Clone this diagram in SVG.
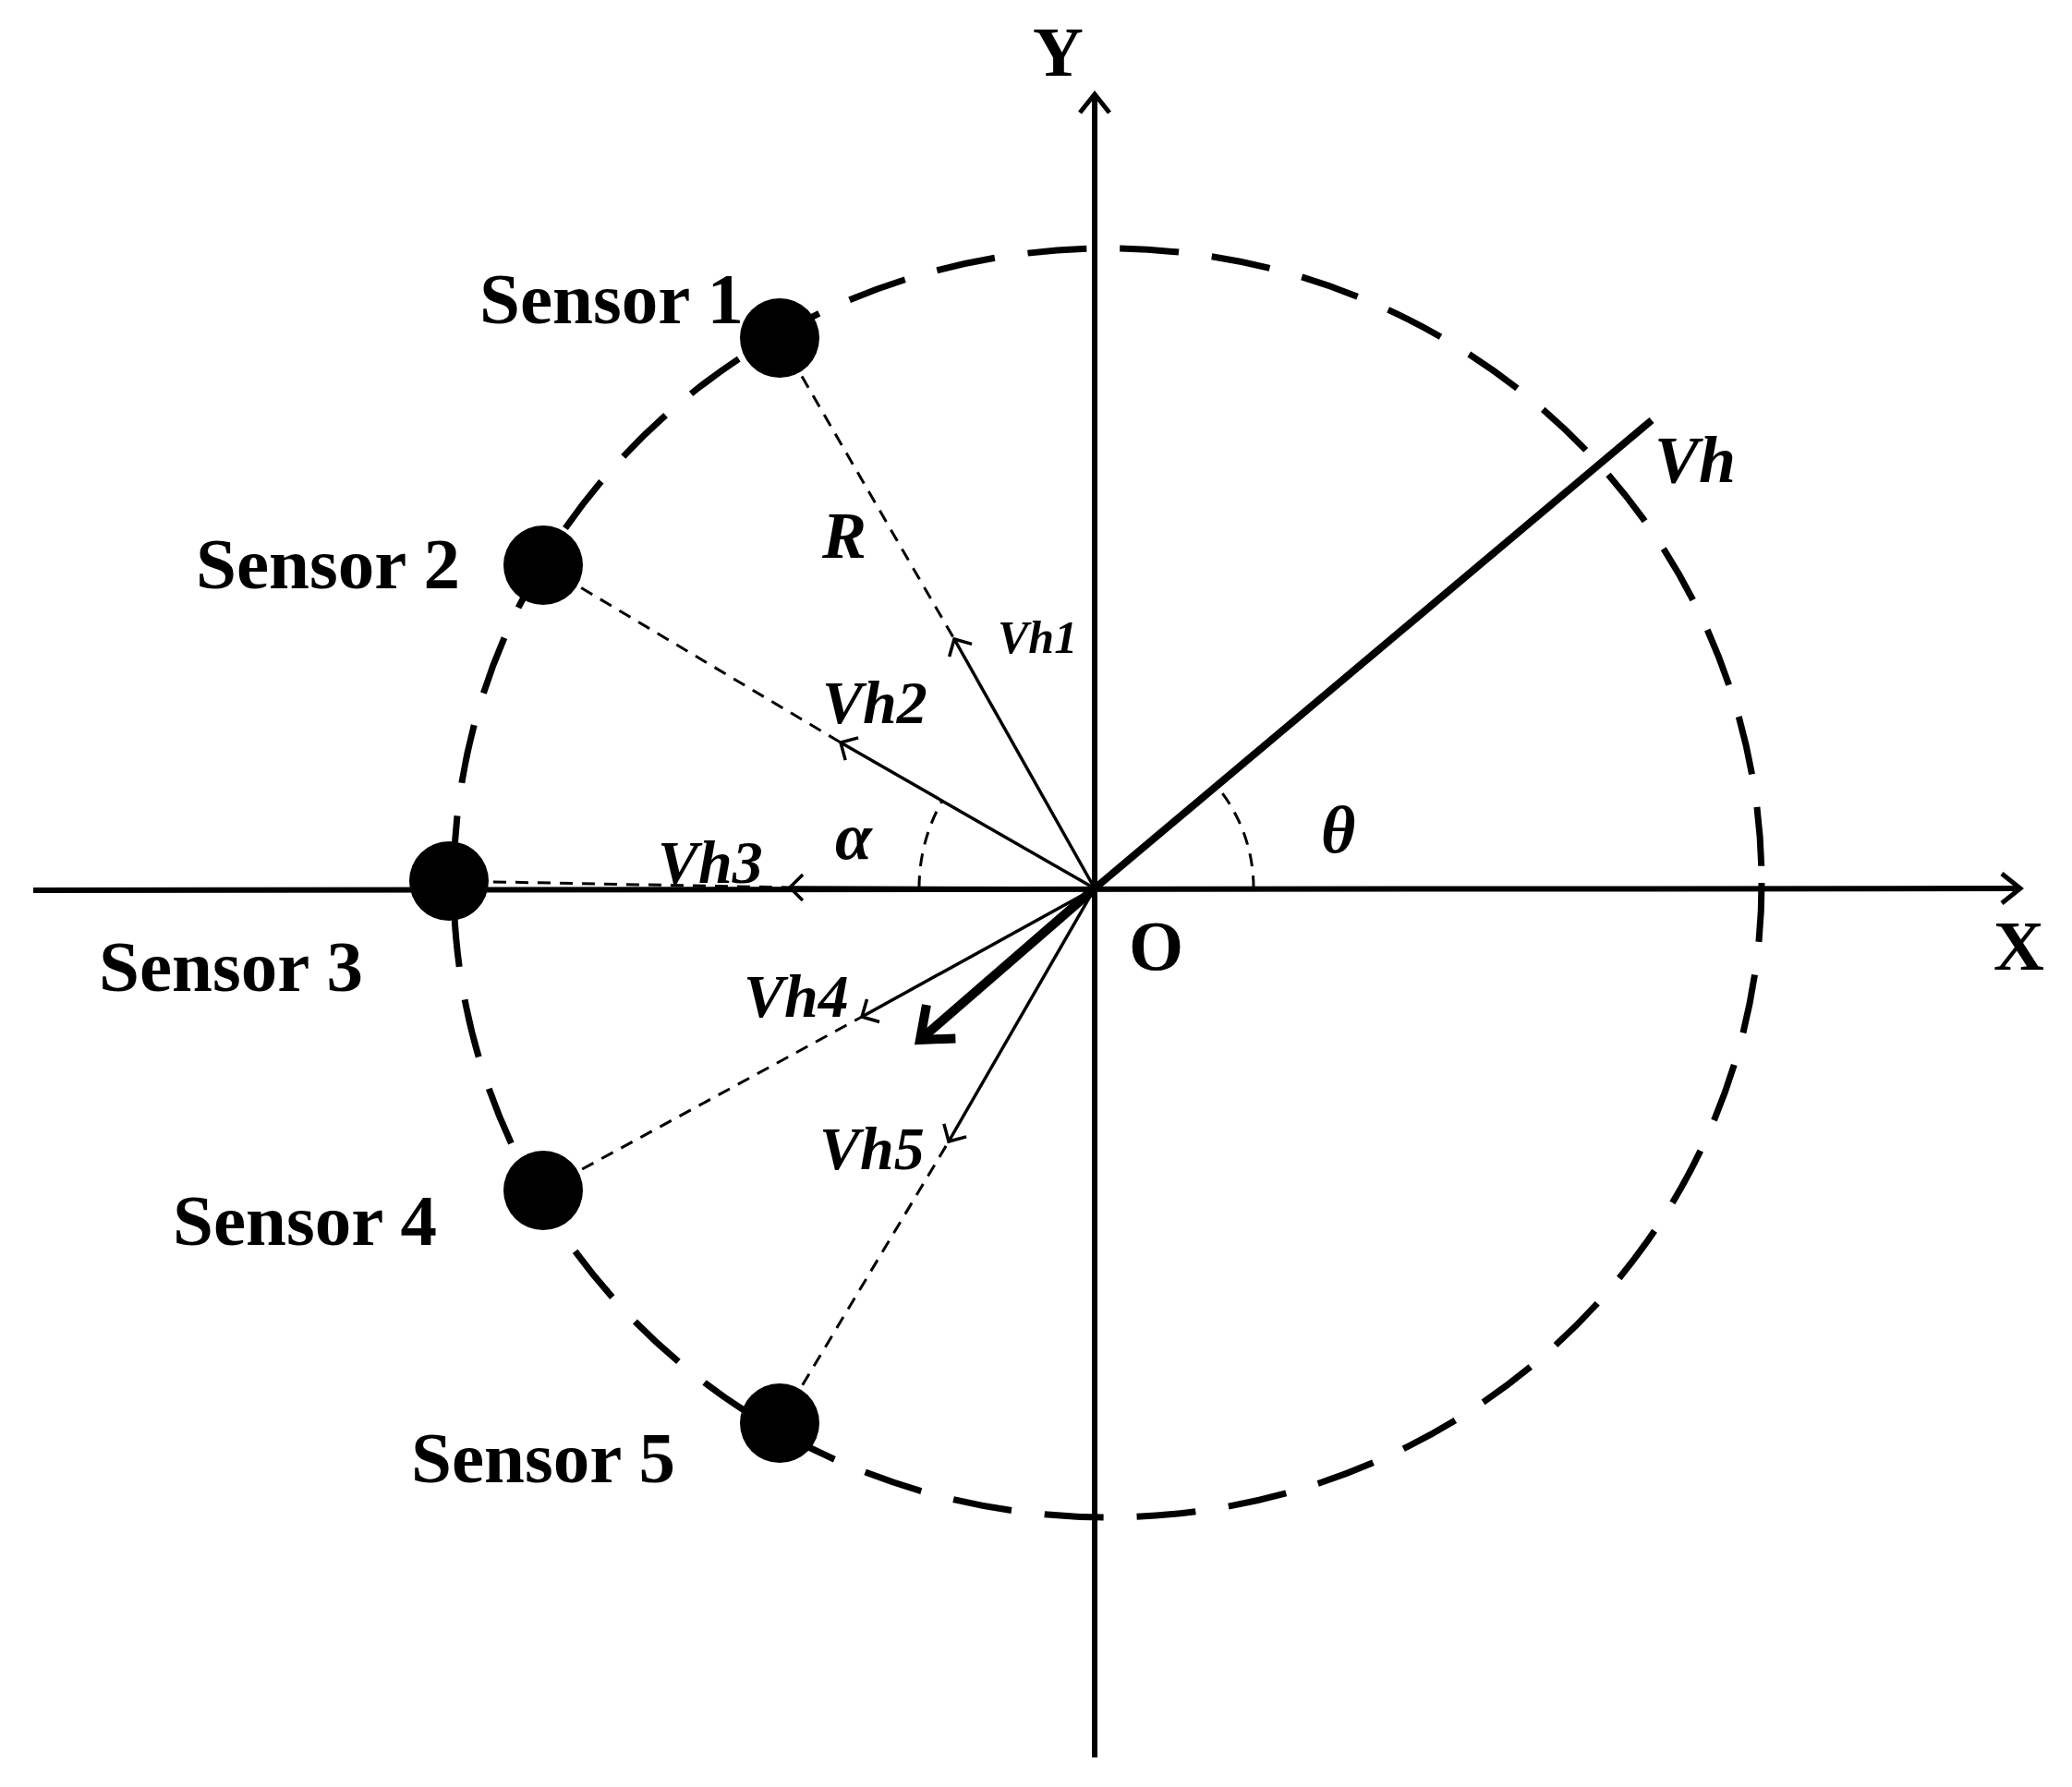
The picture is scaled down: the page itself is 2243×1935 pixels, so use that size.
<svg xmlns="http://www.w3.org/2000/svg" width="2243" height="1935" viewBox="0 0 2243 1935">
<defs>
<style>
.t{font-family:"Liberation Serif",serif;font-weight:bold;fill:#000}
.i{font-style:italic}
.ax{stroke:#000;stroke-width:6;fill:none}
.th{stroke:#000;stroke-width:3.5;fill:none}
.dl{stroke:#000;stroke-width:3;fill:none;stroke-dasharray:14 10}
</style>
<marker id="ah" markerWidth="12" markerHeight="12" refX="0" refY="0" orient="auto" markerUnits="userSpaceOnUse" overflow="visible">
<polyline points="-14,-14 0,0 -14,14" fill="none" stroke="#000" stroke-width="3.5"/>
</marker>
<marker id="ax" markerWidth="12" markerHeight="12" refX="0" refY="0" orient="auto" markerUnits="userSpaceOnUse" overflow="visible">
<polyline points="-20,-16 0,0 -20,16" fill="none" stroke="#000" stroke-width="5"/>
</marker>
<marker id="big" markerWidth="12" markerHeight="12" refX="0" refY="0" orient="auto" markerUnits="userSpaceOnUse" overflow="visible">
<polyline points="-30,-24 0,0 -30,24" fill="none" stroke="#000" stroke-width="10"/>
</marker>
</defs>
<rect width="2243" height="1935" fill="#fff"/>
<g id="axes">
<line class="ax" x1="1185" y1="1903" x2="1185" y2="102" marker-end="url(#ax)"/>
<line class="ax" x1="36" y1="964" x2="2187" y2="962" marker-end="url(#ax)"/>
</g>
<g id="circle">
<ellipse cx="1199" cy="956" rx="708" ry="687" fill="none" stroke="#000" stroke-width="7" stroke-dasharray="64 36"/>
</g>
<g id="connectors">
<line class="dl" x1="844" y1="366" x2="1033" y2="692"/>
<line class="dl" x1="588" y1="612" x2="910" y2="804"/>
<line class="dl" x1="486" y1="954" x2="855" y2="961"/>
<line class="dl" x1="588" y1="1289" x2="933" y2="1101"/>
<line class="dl" x1="844" y1="1541" x2="1027" y2="1236"/>
<line class="th" x1="1185" y1="962" x2="1033" y2="692" marker-end="url(#ah)"/>
<line class="th" x1="1185" y1="962" x2="910" y2="804" marker-end="url(#ah)"/>
<line class="th" x1="1185" y1="962" x2="855" y2="961" marker-end="url(#ah)"/>
<line class="th" x1="1185" y1="962" x2="933" y2="1101" marker-end="url(#ah)"/>
<line class="th" x1="1185" y1="962" x2="1027" y2="1236" marker-end="url(#ah)"/>
<line x1="1185" y1="962" x2="1788" y2="455" stroke="#000" stroke-width="8"/>
<line x1="1185" y1="962" x2="996" y2="1126" stroke="#000" stroke-width="10" marker-end="url(#big)"/>
<path class="dl" d="M995,962 A190,190 0 0 1 1020,867"/>
<path class="dl" d="M1357,962 A172,172 0 0 0 1317,851"/>
</g>
<g id="sensors">
<circle cx="844" cy="366" r="43"/>
<circle cx="588" cy="612" r="43"/>
<circle cx="486" cy="954" r="43"/>
<circle cx="588" cy="1289" r="43"/>
<circle cx="844" cy="1541" r="43"/>
</g>
<g id="labels">
<text class="t" x="1118" y="82" font-size="76">Y</text>
<text class="t" x="2158" y="1050" font-size="76">X</text>
<text class="t" x="1222" y="1050" font-size="76">O</text>
<text class="t" x="519" y="350" font-size="79">Sensor 1</text>
<text class="t" x="212" y="637" font-size="79">Sensor 2</text>
<text class="t" x="107" y="1073" font-size="79">Sensor 3</text>
<text class="t" x="187" y="1348" font-size="79">Sensor 4</text>
<text class="t" x="445" y="1605" font-size="79">Sensor 5</text>
<text class="t i" x="890" y="604" font-size="72">R</text>
<text class="t i" x="1080" y="707" font-size="50">Vh1</text>
<text class="t i" x="890" y="783" font-size="66">Vh2</text>
<text class="t i" x="712" y="956" font-size="66">Vh3</text>
<text class="t i" x="805" y="1101" font-size="66">Vh4</text>
<text class="t i" x="887" y="1266" font-size="66">Vh5</text>
<text class="t i" x="1791" y="522" font-size="72">Vh</text>
<text class="t i" x="904" y="930" font-size="72">α</text>
<text class="t i" x="1430" y="923" font-size="72">θ</text>
</g>
</svg>
